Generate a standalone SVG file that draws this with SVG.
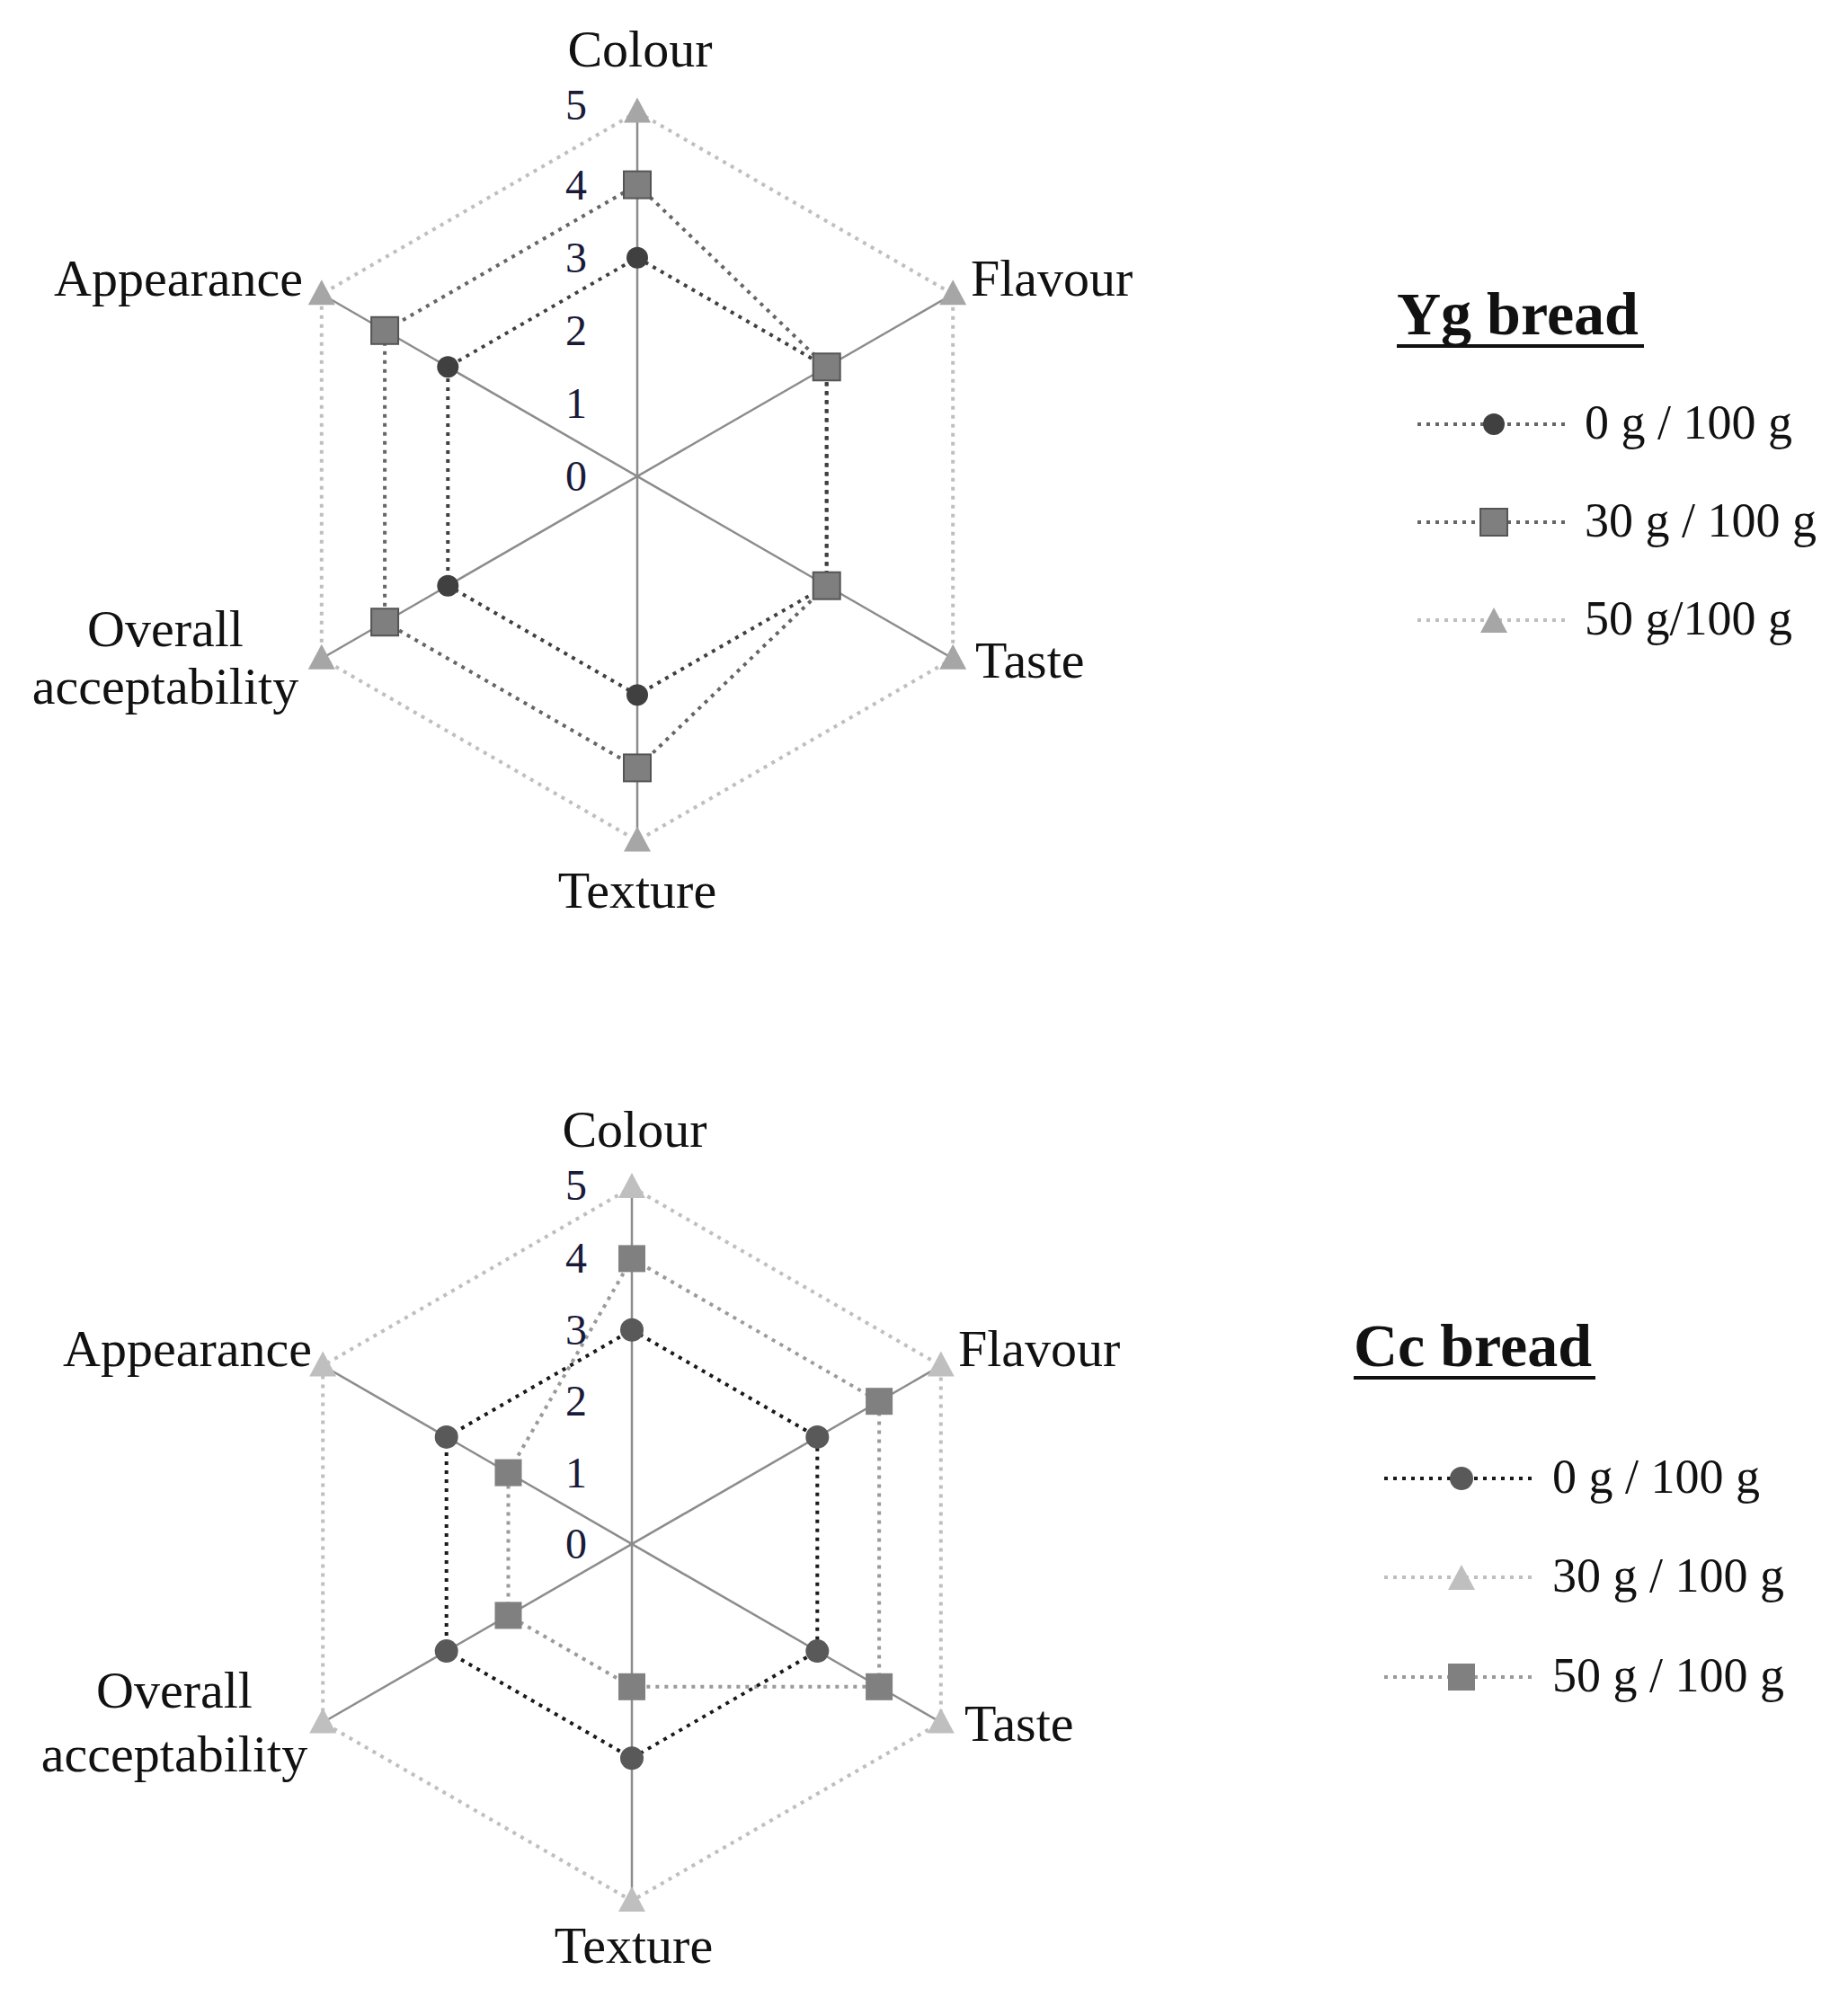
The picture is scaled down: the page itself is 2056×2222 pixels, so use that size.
<svg xmlns="http://www.w3.org/2000/svg" width="2056" height="2222" viewBox="0 0 2056 2222">
<style>
text{font-family:"Liberation Serif","Times New Roman",serif;fill:#111}
.lab{font-size:58px}
.num{font-size:48px;fill:#1a1a3a}
.leg{font-size:54px}
.title{font-size:68px;font-weight:bold}
.axis{stroke:#8c8c8c;stroke-width:2.5;fill:none}
.s0{stroke:#404040;stroke-width:4;stroke-dasharray:4 6;fill:none}
.s0b{stroke:#1a1a1a;stroke-width:4;stroke-dasharray:4 6;fill:none}
.s1{stroke:#666;stroke-width:4;stroke-dasharray:4 6;fill:none}
.s2{stroke:#bfbfbf;stroke-width:4;stroke-dasharray:4 6;fill:none}
</style>
<defs>
<circle id="dot" r="12" fill="#404040"/>
<circle id="dotb" r="13" fill="#595959"/>
<rect id="sq" x="-15" y="-15" width="30" height="30" fill="#7f7f7f" stroke="#555" stroke-width="2"/>
<rect id="sqb" x="-15" y="-15" width="30" height="30" fill="#808080"/>
<polygon id="tri" points="0,-16 15,12 -15,12" fill="#a6a6a6"/>
<polygon id="trib" points="0,-16 15,12 -15,12" fill="#bfbfbf"/>
</defs>

<g id="chart-yg">
<g id="axes-yg">
<line class="axis" x1="709" y1="124.5" x2="709" y2="935.5"/>
<line class="axis" x1="1060.2" y1="327.25" x2="357.8" y2="732.75"/>
<line class="axis" x1="1060.2" y1="732.75" x2="357.8" y2="327.25"/>
</g>
<g id="connectors-yg">
<polygon class="s2" points="709,124.5 1060.2,327.25 1060.2,732.75 709,935.5 357.8,732.75 357.8,327.25"/>
<polygon class="s1" points="709,205.6 919.7,408.3 919.7,651.7 709,854.4 428.1,692.2 428.1,367.8"/>
<polygon class="s0" points="709,286.7 919.7,408.3 919.7,651.7 709,773.3 498.3,651.7 498.3,408.3"/>
</g>
<g id="markers-yg">
<use href="#tri" x="709" y="124.5"/><use href="#tri" x="1060.2" y="327.25"/><use href="#tri" x="1060.2" y="732.75"/><use href="#tri" x="709" y="935.5"/><use href="#tri" x="357.8" y="732.75"/><use href="#tri" x="357.8" y="327.25"/>
<use href="#dot" x="709" y="286.7"/><use href="#dot" x="709" y="773.3"/><use href="#dot" x="498.3" y="651.7"/><use href="#dot" x="498.3" y="408.3"/>
<use href="#sq" x="709" y="205.6"/><use href="#sq" x="919.7" y="408.3"/><use href="#sq" x="919.7" y="651.7"/><use href="#sq" x="709" y="854.4"/><use href="#sq" x="428.1" y="692.2"/><use href="#sq" x="428.1" y="367.8"/>
</g>
<g id="ticks-yg" text-anchor="middle">
<text class="num" x="641" y="546">0</text>
<text class="num" x="641" y="465">1</text>
<text class="num" x="641" y="384">2</text>
<text class="num" x="641" y="303">3</text>
<text class="num" x="641" y="222">4</text>
<text class="num" x="641" y="133">5</text>
</g>
<g id="labels-yg">
<text class="lab" x="712" y="74" text-anchor="middle">Colour</text>
<text class="lab" x="1080" y="329">Flavour</text>
<text class="lab" x="1085" y="754">Taste</text>
<text class="lab" x="709" y="1010" text-anchor="middle">Texture</text>
<text class="lab" x="184" y="719" text-anchor="middle">Overall</text>
<text class="lab" x="184" y="783" text-anchor="middle">acceptability</text>
<text class="lab" x="337" y="329" text-anchor="end">Appearance</text>
</g>
</g>

<g id="legend-yg">
<text class="title" x="1554" y="372">Yg bread</text>
<line x1="1554" y1="385" x2="1829" y2="385" stroke="#111" stroke-width="4"/>
<line class="s1" x1="1577" y1="472" x2="1744" y2="472"/><use href="#dot" x="1662" y="472"/>
<text class="leg" x="1763" y="488">0 g / 100 g</text>
<line class="s1" x1="1577" y1="581" x2="1744" y2="581"/><use href="#sq" x="1662" y="581"/>
<text class="leg" x="1763" y="597">30 g / 100 g</text>
<line class="s2" x1="1577" y1="690" x2="1744" y2="690"/><use href="#tri" x="1662" y="692"/>
<text class="leg" x="1763" y="706">50 g/100 g</text>
</g>

<g id="chart-cc">
<g id="axes-cc">
<line class="axis" x1="703" y1="1321" x2="703" y2="2115"/>
<line class="axis" x1="1046.8" y1="1519.5" x2="359.2" y2="1916.5"/>
<line class="axis" x1="1046.8" y1="1916.5" x2="359.2" y2="1519.5"/>
</g>
<g id="connectors-cc">
<polygon class="s2" points="703,1321 1046.8,1519.5 1046.8,1916.5 703,2115 359.2,1916.5 359.2,1519.5"/>
<polygon class="s2" style="stroke:#9a9a9a" points="703,1400.4 978.1,1559.2 978.1,1876.8 703,1876.8 565.5,1797.4 565.5,1638.6"/>
<polygon class="s0b" points="703,1479.8 909.3,1598.9 909.3,1837.1 703,1956.2 496.7,1837.1 496.7,1598.9"/>
</g>
<g id="markers-cc">
<use href="#trib" x="703" y="1321"/><use href="#trib" x="1046.8" y="1519.5"/><use href="#trib" x="1046.8" y="1916.5"/><use href="#trib" x="703" y="2115"/><use href="#trib" x="359.2" y="1916.5"/><use href="#trib" x="359.2" y="1519.5"/>
<use href="#dotb" x="703" y="1479.8"/><use href="#dotb" x="909.3" y="1598.9"/><use href="#dotb" x="909.3" y="1837.1"/><use href="#dotb" x="703" y="1956.2"/><use href="#dotb" x="496.7" y="1837.1"/><use href="#dotb" x="496.7" y="1598.9"/>
<use href="#sqb" x="703" y="1400.4"/><use href="#sqb" x="978.1" y="1559.2"/><use href="#sqb" x="978.1" y="1876.8"/><use href="#sqb" x="703" y="1876.8"/><use href="#sqb" x="565.5" y="1797.4"/><use href="#sqb" x="565.5" y="1638.6"/>
</g>
<g id="ticks-cc" text-anchor="middle">
<text class="num" x="641" y="1734">0</text>
<text class="num" x="641" y="1655">1</text>
<text class="num" x="641" y="1575">2</text>
<text class="num" x="641" y="1496">3</text>
<text class="num" x="641" y="1416">4</text>
<text class="num" x="641" y="1335">5</text>
</g>
<g id="labels-cc">
<text class="lab" x="706" y="1276" text-anchor="middle">Colour</text>
<text class="lab" x="1066" y="1520">Flavour</text>
<text class="lab" x="1073" y="1937">Taste</text>
<text class="lab" x="705" y="2184" text-anchor="middle">Texture</text>
<text class="lab" x="194" y="1900" text-anchor="middle">Overall</text>
<text class="lab" x="194" y="1971" text-anchor="middle">acceptability</text>
<text class="lab" x="347" y="1520" text-anchor="end">Appearance</text>
</g>
</g>

<g id="legend-cc">
<text class="title" x="1506" y="1520">Cc bread</text>
<line x1="1506" y1="1533" x2="1775" y2="1533" stroke="#111" stroke-width="4"/>
<line class="s0b" x1="1540" y1="1645" x2="1710" y2="1645"/><use href="#dotb" x="1626" y="1645"/>
<text class="leg" x="1727" y="1661">0 g / 100 g</text>
<line class="s2" x1="1540" y1="1755" x2="1710" y2="1755"/><use href="#trib" x="1626" y="1757"/>
<text class="leg" x="1727" y="1771">30 g / 100 g</text>
<line class="s2" style="stroke:#9a9a9a" x1="1540" y1="1866" x2="1710" y2="1866"/><use href="#sqb" x="1626" y="1866"/>
<text class="leg" x="1727" y="1882">50 g / 100 g</text>
</g>
</svg>
